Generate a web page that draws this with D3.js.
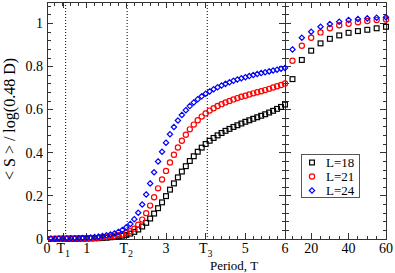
<!DOCTYPE html>
<html>
<head>
<meta charset="utf-8">
<script src="https://cdn.jsdelivr.net/npm/d3@7"></script>
<style>
  body { margin: 0; background: #fff; }
  text { font-family: "Liberation Serif", "Times New Roman", serif; }
</style>
</head>
<body>
<div id="chart"></div>
<script>
// left panel: period T from 0.1 to 6.0
const tLeft = [0.1,0.2,0.3,0.4,0.5,0.6,0.7,0.8,0.9,1.0,
  1.1,1.2,1.3,1.4,1.5,1.6,1.7,1.8,1.9,2.0,
  2.1,2.2,2.3,2.4,2.5,2.6,2.7,2.8,2.9,3.0,
  3.1,3.2,3.3,3.4,3.5,3.6,3.7,3.8,3.9,4.0,
  4.1,4.2,4.3,4.4,4.5,4.6,4.7,4.8,4.9,5.0,
  5.1,5.2,5.3,5.4,5.5,5.6,5.7,5.8,5.9,6.0];
const l18Left = [0.000,0.000,0.001,0.001,0.001,0.001,0.001,0.002,0.002,0.002,
  0.003,0.003,0.004,0.005,0.006,0.008,0.010,0.012,0.015,0.019,
  0.025,0.033,0.044,0.058,0.075,0.095,0.118,0.143,0.170,0.199,
  0.229,0.258,0.286,0.313,0.338,0.362,0.384,0.405,0.424,0.441,
  0.456,0.469,0.481,0.492,0.502,0.511,0.520,0.528,0.536,0.544,
  0.551,0.558,0.565,0.572,0.579,0.587,0.595,0.604,0.613,0.624];
const l21Left = [0.001,0.001,0.001,0.001,0.002,0.002,0.002,0.003,0.003,0.004,
  0.004,0.005,0.006,0.008,0.010,0.012,0.015,0.018,0.022,0.028,
  0.036,0.048,0.066,0.090,0.120,0.155,0.194,0.235,0.276,0.316,
  0.355,0.391,0.425,0.456,0.484,0.509,0.531,0.551,0.568,0.583,
  0.596,0.607,0.617,0.626,0.634,0.641,0.648,0.654,0.660,0.665,
  0.671,0.676,0.681,0.686,0.691,0.697,0.703,0.709,0.715,0.722];
const l24Left = [0.001,0.001,0.002,0.002,0.002,0.003,0.003,0.004,0.005,0.006,
  0.007,0.009,0.011,0.014,0.017,0.021,0.026,0.033,0.042,0.054,
  0.070,0.092,0.122,0.160,0.207,0.258,0.310,0.360,0.405,0.447,
  0.486,0.520,0.550,0.576,0.598,0.617,0.634,0.649,0.662,0.674,
  0.685,0.695,0.704,0.712,0.720,0.727,0.734,0.740,0.746,0.751,
  0.756,0.761,0.766,0.770,0.774,0.778,0.782,0.786,0.790,0.794];

// right panel: long periods
const tRight = [10,15,20,25,30,35,40,45,50,55,60];
const l18Right = [0.742,0.831,0.874,0.908,0.929,0.945,0.957,0.965,0.971,0.978,0.985];
const l21Right = [0.827,0.897,0.934,0.959,0.978,0.992,0.999,1.006,1.012,1.016,1.019];
const l24Right = [0.880,0.934,0.962,0.985,0.998,1.008,1.016,1.021,1.024,1.027,1.029];

const seriesNames = ['L=18', 'L=21', 'L=24'];
const seriesColors = ['#000000', '#ff0000', '#0000ff'];
const seriesShapes = ['square', 'circle', 'diamond'];

// tick labels
const xLeftMajor = [0, 0.41, 1, 2, 3, 4, 5, 6];
const xLeftLabels = [['0'], ['T', '1'], ['1'], ['T', '2'], ['3'], ['T', '3'], ['5'], ['6']];
const xRightMajor = [20, 40, 60];
const yMajor = [0, 0.2, 0.4, 0.6, 0.8, 1];
const yLabels = ['0', '0.2', '0.4', '0.6', '0.8', '1'];
const tMarks = [0.47, 2.02, 4.04];

const width = 395, height = 273;
const svg = d3.select('#chart').append('svg')
  .attr('width', width).attr('height', height);

const xL = d3.scaleLinear().domain([0, 6]).range([47, 285]);
const xR = d3.scaleLinear().domain([6, 60]).range([285, 386]);
const y = d3.scaleLinear().domain([0, 1.1]).range([239, 2]);
const yTop = y(1.1), yBot = y(0);

const axisColor = '#333';
const majLen = 6, minLen = 3.5;

function tickLines(g, pts) {
  g.selectAll(null).data(pts).enter().append('line')
    .attr('x1', d => d[0]).attr('y1', d => d[1])
    .attr('x2', d => d[2]).attr('y2', d => d[3])
    .attr('stroke', axisColor).attr('stroke-width', 1);
}

const ticks = svg.append('g').attr('shape-rendering', 'crispEdges');

// x ticks, left panel (bottom up, top down)
const xLeftMinor = d3.range(0, 6.001, 0.2);
const pts = [];
xLeftMinor.forEach(v => {
  pts.push([xL(v), yBot, xL(v), yBot - minLen]);
  pts.push([xL(v), yTop, xL(v), yTop + minLen]);
});
xLeftMajor.forEach(v => {
  pts.push([xL(v), yBot, xL(v), yBot - majLen]);
  pts.push([xL(v), yTop, xL(v), yTop + majLen]);
});
// x ticks right panel
d3.range(10, 60.001, 5).forEach(v => {
  pts.push([xR(v), yBot, xR(v), yBot - minLen]);
  pts.push([xR(v), yTop, xR(v), yTop + minLen]);
});
xRightMajor.forEach(v => {
  pts.push([xR(v), yBot, xR(v), yBot - majLen]);
  pts.push([xR(v), yTop, xR(v), yTop + majLen]);
});
// y ticks: left frame, middle axis (both sides), right frame
d3.range(0, 1.1, 0.04).forEach(v => {
  pts.push([xL(0), y(v), xL(0) + minLen, y(v)]);
  pts.push([xL(6) - minLen, y(v), xL(6) + minLen, y(v)]);
  pts.push([xR(60), y(v), xR(60) - minLen, y(v)]);
});
yMajor.forEach(v => {
  pts.push([xL(0), y(v), xL(0) + majLen, y(v)]);
  pts.push([xL(6) - majLen, y(v), xL(6) + majLen, y(v)]);
  pts.push([xR(60), y(v), xR(60) - majLen, y(v)]);
});
tickLines(ticks, pts);

// frames
svg.append('rect').attr('x', xL(0)).attr('y', yTop)
  .attr('width', xR(60) - xL(0)).attr('height', yBot - yTop)
  .attr('fill', 'none').attr('stroke', axisColor).attr('shape-rendering', 'crispEdges');
svg.append('line').attr('x1', xL(6)).attr('x2', xL(6)).attr('y1', yTop).attr('y2', yBot)
  .attr('stroke', axisColor).attr('shape-rendering', 'crispEdges');

// dotted T lines
svg.selectAll('.tline').data(tMarks).enter().append('line')
  .attr('x1', d => xL(d)).attr('x2', d => xL(d))
  .attr('y1', yTop).attr('y2', yBot)
  .attr('stroke', '#000').attr('stroke-width', 1)
  .attr('stroke-dasharray', '1,2');

// y tick labels
svg.selectAll('.ylab').data(yMajor).enter().append('text')
  .attr('x', xL(0) - 4).attr('y', d => y(d)).attr('dy', '0.34em')
  .attr('text-anchor', 'end').attr('font-size', 14)
  .text((d, i) => yLabels[i]);

// x tick labels, left
const xl = svg.selectAll('.xlab').data(xLeftMajor).enter().append('text')
  .attr('x', d => xL(d)).attr('y', 253)
  .attr('text-anchor', 'middle').attr('font-size', 14);
xl.each(function (d, i) {
  const lab = xLeftLabels[i];
  const t = d3.select(this);
  t.append('tspan').text(lab[0]);
  if (lab[1]) t.append('tspan').attr('dy', 4).attr('font-size', 10).text(lab[1]);
});
// x tick labels, right
svg.selectAll('.xrlab').data(xRightMajor).enter().append('text')
  .attr('x', d => xR(d)).attr('y', 253)
  .attr('text-anchor', 'middle').attr('font-size', 14)
  .text(d => d);

// axis titles
svg.append('text').attr('x', 234).attr('y', 270)
  .attr('text-anchor', 'middle').attr('font-size', 13)
  .text('Period, T');
svg.append('text')
  .attr('transform', 'translate(15,119) rotate(-90)')
  .attr('text-anchor', 'middle').attr('font-size', 16)
  .text('< S > / log(0.48 D)');

// markers
function drawMarker(g, shape, color, cx, cy) {
  if (shape === 'square') {
    g.append('rect').attr('x', cx - 2.4).attr('y', cy - 2.4)
      .attr('width', 4.8).attr('height', 4.8)
      .attr('fill', 'none').attr('stroke', color).attr('stroke-width', 1.2);
  } else if (shape === 'circle') {
    g.append('circle').attr('cx', cx).attr('cy', cy).attr('r', 2.6)
      .attr('fill', 'none').attr('stroke', color).attr('stroke-width', 1.2);
  } else {
    g.append('path').attr('d', d3.symbol(d3.symbolDiamond2, 18)())
      .attr('transform', `translate(${cx},${cy})`)
      .attr('fill', 'none').attr('stroke', color).attr('stroke-width', 1.2);
  }
}

const leftSeries = [l18Left, l21Left, l24Left];
const rightSeries = [l18Right, l21Right, l24Right];
const marks = svg.append('g');
leftSeries.forEach((vals, s) => {
  const g = marks.append('g');
  vals.forEach((v, i) => drawMarker(g, seriesShapes[s], seriesColors[s], xL(tLeft[i]), y(v)));
});
rightSeries.forEach((vals, s) => {
  const g = marks.append('g');
  vals.forEach((v, i) => drawMarker(g, seriesShapes[s], seriesColors[s], xR(tRight[i]), y(v)));
});

// legend
const leg = svg.append('g');
leg.append('rect').attr('x', 301.5).attr('y', 154.5).attr('width', 58).attr('height', 43)
  .attr('fill', '#fff').attr('stroke', '#555').attr('stroke-width', 1);
seriesNames.forEach((name, i) => {
  const cy = 162.5 + i * 14;
  drawMarker(leg, seriesShapes[i], seriesColors[i], 312, cy);
  leg.append('text').attr('x', 326).attr('y', cy).attr('dy', '0.34em')
    .attr('font-size', 13).text(name);
});
</script>
</body>
</html>
